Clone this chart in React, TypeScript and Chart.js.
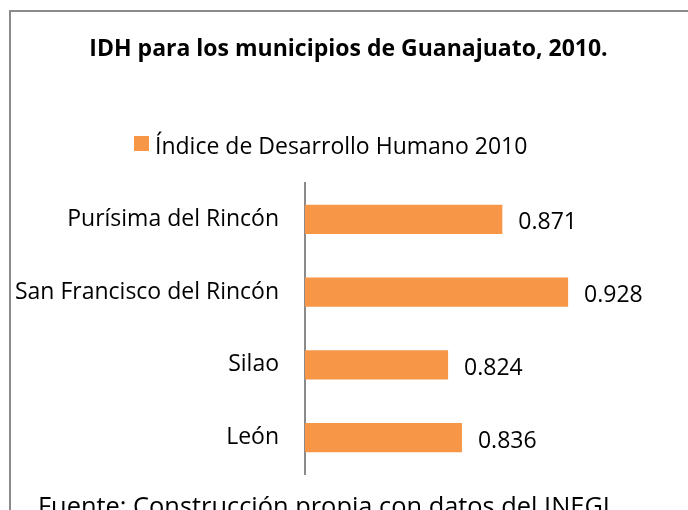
import React, { useEffect, useRef } from "react";
import { Chart, registerables } from "chart.js";

Chart.register(...registerables);

const categories = ["Purísima del Rincón", "San Francisco del Rincón", "Silao", "León"];
const idhValues = [0.871, 0.928, 0.824, 0.836];
const seriesLabel = "Índice de Desarrollo Humano 2010";
const chartTitle = "IDH para los municipios de Guanajuato, 2010.";
const footerText = "Fuente: Construcción propia con datos del INEGI";

const FONT = '"Open Sans", Lato, sans-serif';
const ORANGE = "#F79646";

export default function App() {
  const ref = useRef<HTMLCanvasElement | null>(null);

  useEffect(() => {
    const canvas = ref.current;
    if (!canvas) return;

    const decor = {
      id: "decor",
      beforeDraw(chart: any) {
        const ctx = chart.ctx;
        ctx.save();
        ctx.fillStyle = "#ffffff";
        ctx.fillRect(0, 0, chart.width, chart.height);
        ctx.strokeStyle = "#8a8a8a";
        ctx.lineWidth = 2;
        ctx.strokeRect(10, 11, 700, 520);
        ctx.restore();
      },
      afterDraw(chart: any) {
        const ctx = chart.ctx;
        ctx.save();
        ctx.fillStyle = "#000000";
        ctx.textBaseline = "alphabetic";
        // title
        ctx.font = `bold 23px ${FONT}`;
        ctx.textAlign = "center";
        ctx.fillText(chartTitle, 348.5, 56);
        // legend
        ctx.fillStyle = ORANGE;
        ctx.fillRect(134, 136, 15, 15);
        ctx.fillStyle = "#000000";
        ctx.font = `23px ${FONT}`;
        ctx.textAlign = "left";
        ctx.fillText(seriesLabel, 155, 154);
        // footer
        ctx.font = `25.4px ${FONT}`;
        ctx.fillText(footerText, 38, 515);
        // data labels
        ctx.font = `23px ${FONT}`;
        const meta = chart.getDatasetMeta(0);
        meta.data.forEach((bar: any, i: number) => {
          ctx.fillText(idhValues[i].toFixed(3), bar.x + 16, bar.y + 10);
        });
        ctx.restore();
      },
    };

    const chart = new Chart(canvas, {
      type: "bar",
      data: {
        labels: categories,
        datasets: [
          {
            label: seriesLabel,
            data: idhValues,
            backgroundColor: ORANGE,
            borderWidth: 0,
            barPercentage: 0.4,
            categoryPercentage: 1.0,
          },
        ],
      },
      options: {
        indexAxis: "y",
        animation: false,
        responsive: false,
        layout: { padding: { left: 10, right: 94.5, top: 183, bottom: 36 } },
        plugins: {
          legend: { display: false },
          title: { display: false },
          tooltip: { enabled: false },
        },
        scales: {
          x: { type: "linear", min: 0.7, max: 0.95, display: false },
          y: {
            type: "category",
            grid: { display: false },
            border: { display: true, color: "#8a8a8a", width: 2 },
            ticks: { color: "#000000", font: { family: FONT, size: 23 }, padding: 18 },
            afterFit(scale: any) {
              scale.width = 295;
            },
          },
        },
      },
      plugins: [decor],
    });
    return () => chart.destroy();
  }, []);

  return (
    <div style={{ position: "absolute", left: 0, top: 0, width: 688, height: 510, background: "#fff" }}>
      <canvas ref={ref} width={688} height={510} style={{ display: "block" }} />
    </div>
  );
}
